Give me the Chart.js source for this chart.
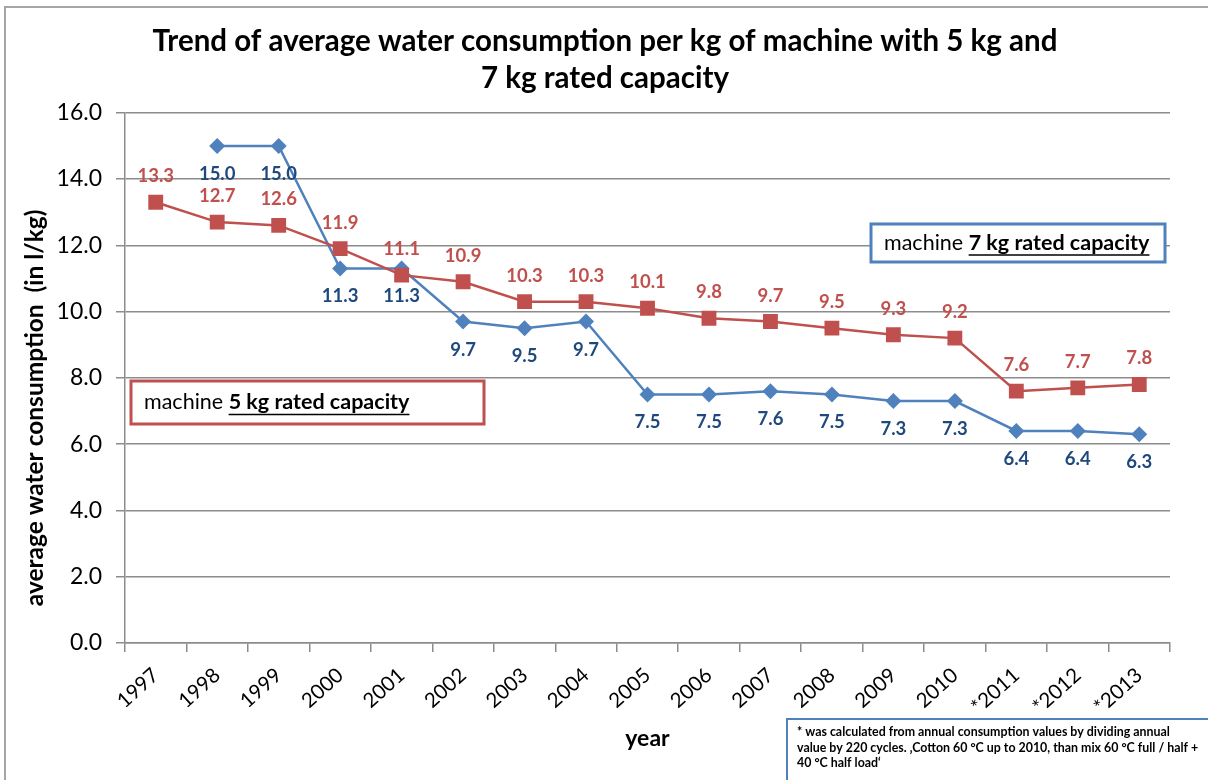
<!DOCTYPE html>
<html>
<head>
<meta charset="utf-8">
<script src="https://cdn.jsdelivr.net/npm/chart.js@4.4.1/dist/chart.umd.min.js"></script>
<style>
  html, body { margin: 0; padding: 0; background: #ffffff; }
  #wrap { width: 1208px; height: 780px; }
</style>
</head>
<body>
<div id="wrap"><canvas id="chart" width="1208" height="780"></canvas></div>
<script>
// Years on the category axis (starred years use the mixed test programme)
const years = ['1997', '1998', '1999', '2000', '2001', '2002', '2003', '2004', '2005',
               '2006', '2007', '2008', '2009', '2010', '*2011', '*2012', '*2013'];

// Average water consumption per kg of capacity, l/kg
const rated5kg = [null, 15.0, 15.0, 11.3, 11.3, 9.7, 9.5, 9.7, 7.5, 7.5, 7.6, 7.5, 7.3, 7.3, 6.4, 6.4, 6.3];
const rated7kg = [13.3, 12.7, 12.6, 11.9, 11.1, 10.9, 10.3, 10.3, 10.1, 9.8, 9.7, 9.5, 9.3, 9.2, 7.6, 7.7, 7.8];

// Value axis range
const yMin = 0;
const yMax = 16;
const yStep = 2;

const titleLines = ['Trend of average water consumption per kg of machine with 5 kg and',
                    '7 kg rated capacity'];
const yTitle = 'average water consumption  (in l/kg)';
const xTitle = 'year';
const footnoteLines = [
  '* was calculated from annual consumption values by dividing annual',
  'value by 220 cycles. \u201ACotton 60 \u00B0C up to 2010, than mix 60 \u00B0C full / half +',
  '40 \u00B0C half load\u2018'
];

const FONT = 'Lato, "Open Sans", "Liberation Sans", sans-serif';
const BLUE = '#4F81BD';
const RED = '#C0504D';
const BLUE_TEXT = '#1F497D';
const GRID = '#8C8C8C';

// Value labels: red above its markers, blue below
const valueLabels = {
  id: 'valueLabels',
  afterDatasetsDraw(chart) {
    const ctx = chart.ctx;
    ctx.save();
    ctx.font = 'bold 18.5px ' + FONT;
    ctx.textAlign = 'center';
    ctx.textBaseline = 'middle';
    chart.data.datasets.forEach((ds, i) => {
      const meta = chart.getDatasetMeta(i);
      meta.data.forEach((pt, j) => {
        const v = ds.data[j];
        if (v === null || v === undefined) return;
        ctx.fillStyle = ds.labelColor;
        ctx.fillText(v.toFixed(1), pt.x, pt.y + ds.labelOffset);
      });
    });
    ctx.restore();
  }
};

// Outer frame, rotated axis title and the text boxes
function drawCaptionBox(ctx, x, y, w, h, color, plain, strong) {
  ctx.save();
  ctx.lineWidth = 3;
  ctx.strokeStyle = color;
  ctx.fillStyle = '#ffffff';
  ctx.beginPath();
  ctx.rect(x, y, w, h);
  ctx.fill();
  ctx.stroke();
  ctx.fillStyle = '#000000';
  ctx.textBaseline = 'middle';
  ctx.textAlign = 'left';
  const ty = y + h / 2;
  ctx.font = '21.5px ' + FONT;
  const tx = x + 13;
  ctx.fillText(plain, tx, ty);
  const pw = ctx.measureText(plain).width;
  ctx.font = 'bold 21.5px ' + FONT;
  ctx.fillText(strong, tx + pw, ty);
  const sw = ctx.measureText(strong).width;
  ctx.lineWidth = 1.5;
  ctx.strokeStyle = '#000000';
  ctx.beginPath();
  ctx.moveTo(tx + pw, ty + 12);
  ctx.lineTo(tx + pw + sw, ty + 12);
  ctx.stroke();
  ctx.restore();
}

const decorations = {
  id: 'decorations',
  beforeDraw(chart) {
    const ctx = chart.ctx;
    ctx.save();
    ctx.fillStyle = '#ffffff';
    ctx.fillRect(0, 0, chart.width, chart.height);
    ctx.strokeStyle = '#A6A6A6';
    ctx.lineWidth = 2;
    ctx.beginPath();
    ctx.moveTo(5, chart.height);
    ctx.lineTo(5, 7);
    ctx.lineTo(chart.width, 7);
    ctx.stroke();
    ctx.restore();
  },
  afterDraw(chart) {
    const ctx = chart.ctx;
    const area = chart.chartArea;
    ctx.save();
    // y axis title
    ctx.translate(35, (area.top + area.bottom) / 2 + 30);
    ctx.rotate(-Math.PI / 2);
    ctx.font = 'bold 24.5px ' + FONT;
    ctx.fillStyle = '#000000';
    ctx.textAlign = 'center';
    ctx.textBaseline = 'middle';
    ctx.fillText(yTitle, 0, 0);
    ctx.restore();

    drawCaptionBox(ctx, 131, 381, 353, 43, RED, 'machine ', '5 kg rated capacity');
    drawCaptionBox(ctx, 871, 224, 294, 38, BLUE, 'machine ', '7 kg rated capacity');

    // footnote box
    ctx.save();
    ctx.lineWidth = 2;
    ctx.strokeStyle = BLUE;
    ctx.fillStyle = '#ffffff';
    ctx.beginPath();
    ctx.rect(787, 719, 440, 80);
    ctx.fill();
    ctx.stroke();
    ctx.fillStyle = '#000000';
    ctx.font = 'bold 12.4px ' + FONT;
    ctx.textAlign = 'left';
    ctx.textBaseline = 'middle';
    footnoteLines.forEach((line, i) => ctx.fillText(line, 797, 732 + i * 15.5));
    ctx.restore();
  }
};

const chart = new Chart(document.getElementById('chart'), {
  type: 'line',
  data: {
    labels: years,
    datasets: [
      {
        label: 'machine 7 kg rated capacity',
        data: rated7kg,
        borderColor: RED,
        backgroundColor: RED,
        borderWidth: 2.5,
        pointStyle: 'rect',
        pointRadius: 10.5,
        pointHoverRadius: 10.5,
        pointBorderWidth: 0,
        tension: 0,
        order: 0,
        labelColor: RED,
        labelOffset: -26
      },
      {
        label: 'machine 5 kg rated capacity',
        data: rated5kg,
        borderColor: BLUE,
        backgroundColor: BLUE,
        borderWidth: 2.5,
        pointStyle: 'rectRot',
        pointRadius: 8,
        pointHoverRadius: 8,
        pointBorderWidth: 0,
        tension: 0,
        order: 1,
        labelColor: BLUE_TEXT,
        labelOffset: 28
      }
    ]
  },
  options: {
    responsive: false,
    animation: false,
    devicePixelRatio: 1,
    layout: { padding: { left: 40, right: 38, top: 0, bottom: 0 } },
    plugins: {
      legend: { display: false },
      tooltip: { enabled: false },
      title: {
        display: true,
        text: titleLines,
        color: '#000000',
        font: { family: FONT, size: 29.5, weight: 'bold', lineHeight: 1.25 },
        padding: { top: 23, bottom: 16 }
      }
    },
    scales: {
      x: {
        offset: true,
        grid: {
          offset: true,
          drawOnChartArea: false,
          drawTicks: true,
          tickLength: 9,
          color: GRID,
          lineWidth: 1.5
        },
        border: { display: true, color: GRID, width: 1.5 },
        ticks: {
          autoSkip: false,
          minRotation: 42,
          maxRotation: 42,
          padding: 11,
          color: '#000000',
          font: { family: FONT, size: 20.5 }
        },
        title: {
          display: true,
          text: xTitle,
          color: '#000000',
          font: { family: FONT, size: 23, weight: 'bold' },
          padding: { top: 0, bottom: 28 }
        },
        afterFit(scale) { scale.height = 137; }
      },
      y: {
        min: yMin,
        max: yMax,
        grid: {
          color: GRID,
          lineWidth: 1.5,
          tickLength: 9
        },
        border: { display: true, color: GRID, width: 1.5 },
        ticks: {
          stepSize: yStep,
          padding: 14,
          color: '#000000',
          font: { family: FONT, size: 23 },
          callback: (v) => Number(v).toFixed(1)
        },
        afterFit(scale) { scale.width = 85; }
      }
    }
  },
  plugins: [decorations, valueLabels]
});
</script>
</body>
</html>
